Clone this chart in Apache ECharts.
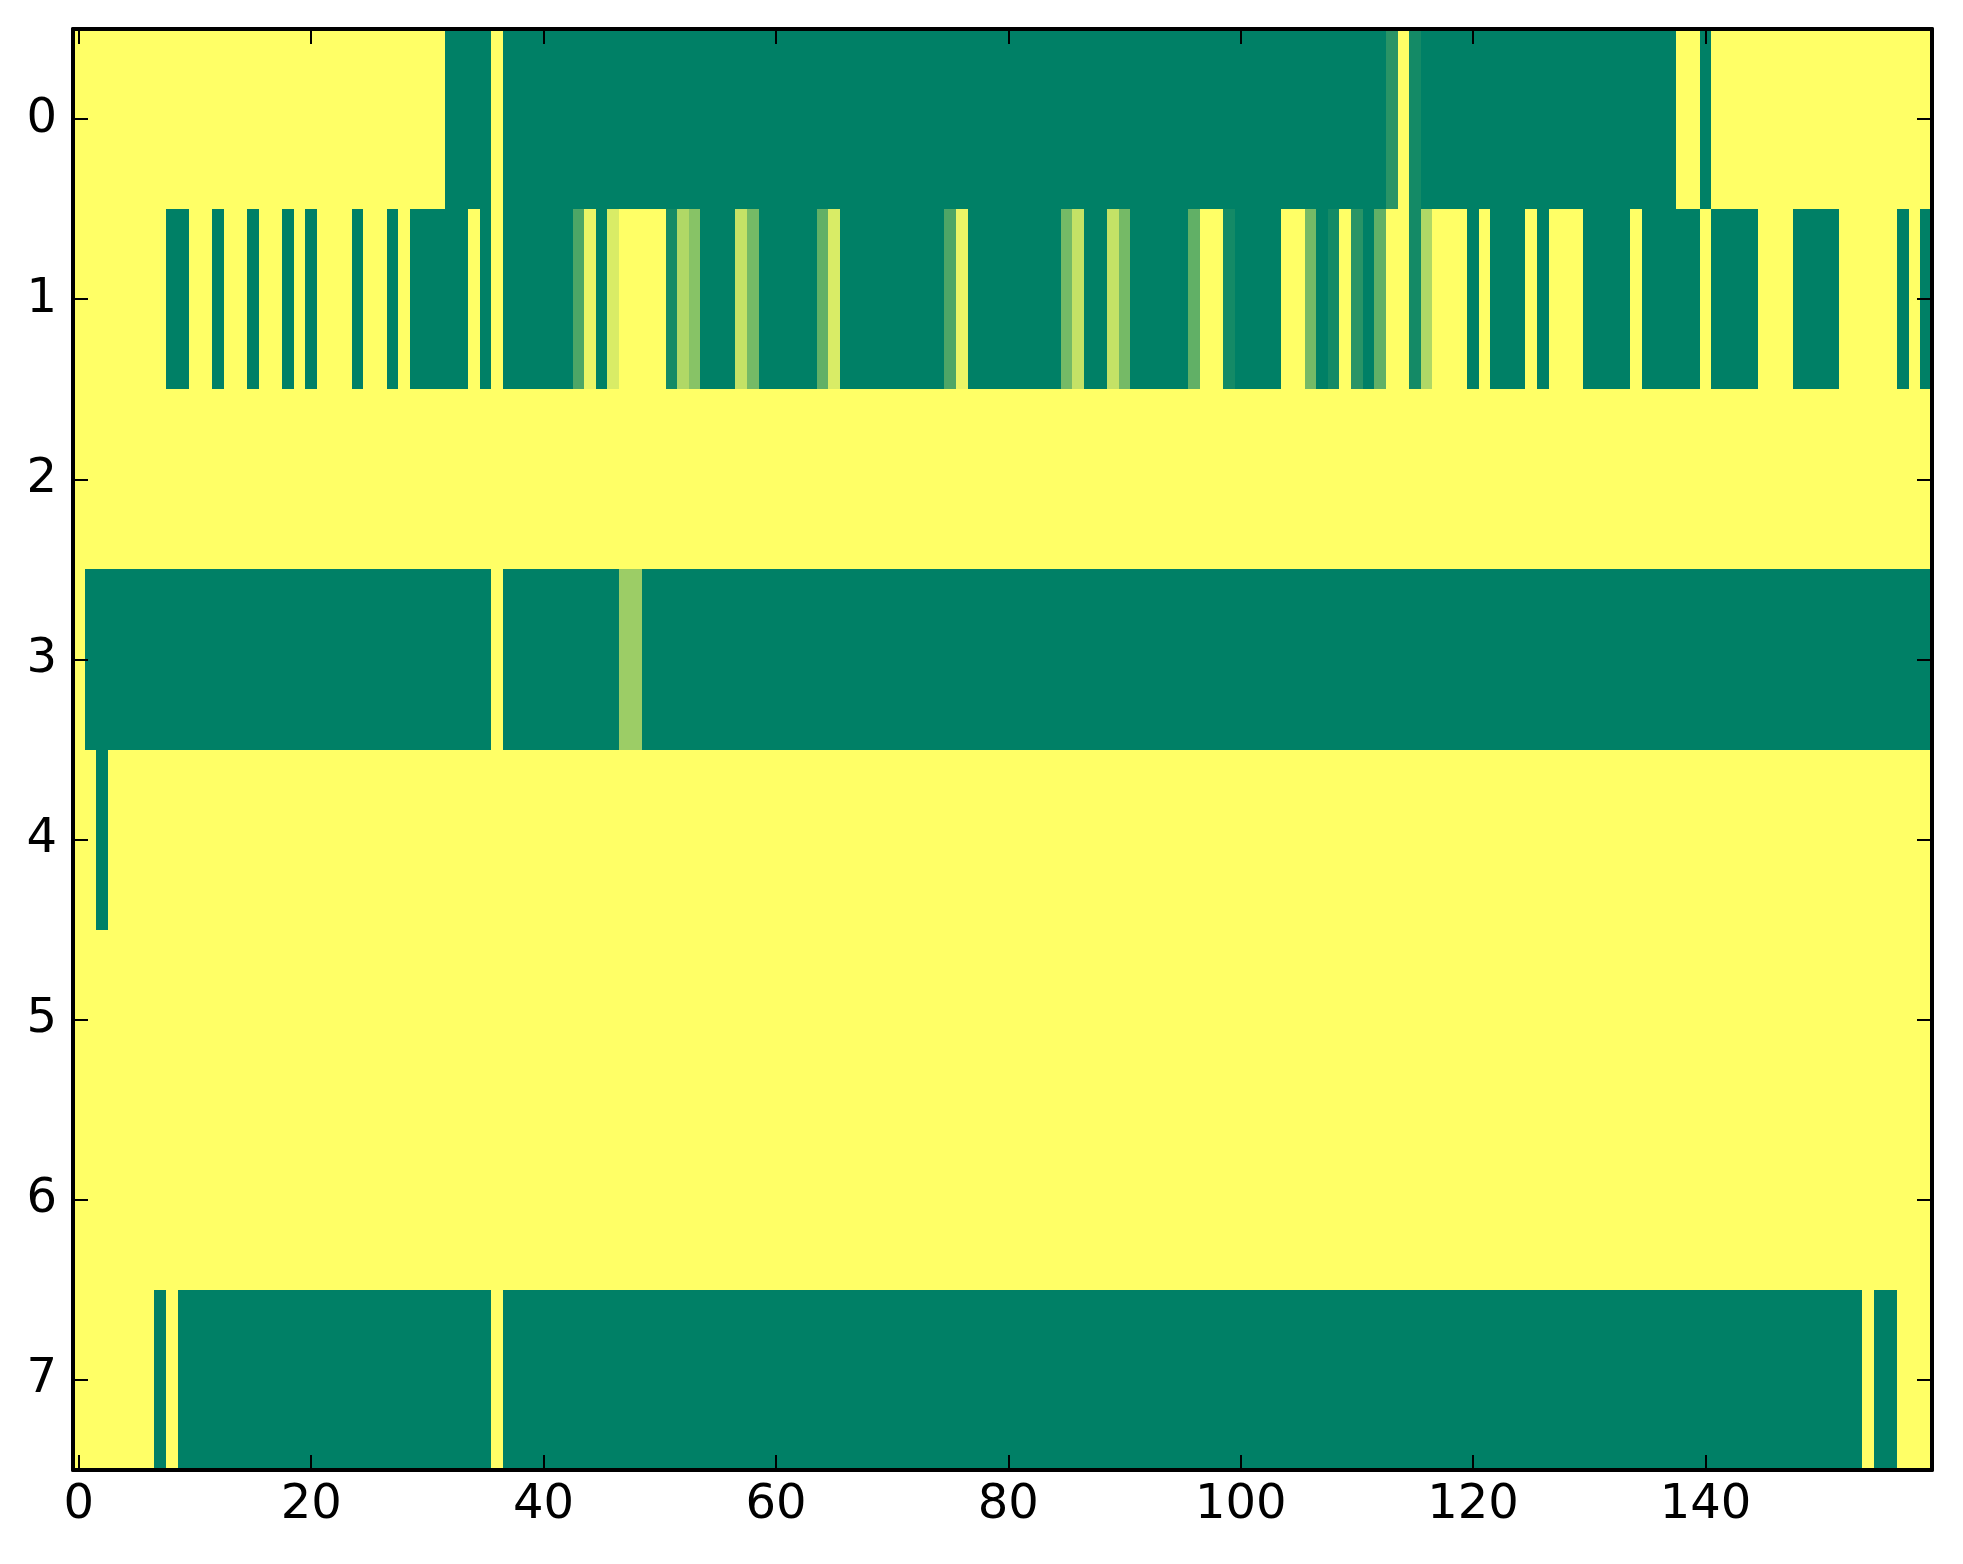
<!DOCTYPE html>
<html>
<head>
<meta charset="utf-8">
<script src="https://cdn.jsdelivr.net/npm/echarts@6/dist/echarts.min.js"></script>
<style>
  html, body { margin: 0; padding: 0; background: #fff; }
  #chart { width: 1963px; height: 1564px; }
</style>
</head>
<body>
<div id="chart"></div>
<script>
// values per row, 0 = green, 1 = yellow (summer colormap)
var row0 = [
  1,1,1,1,1,1,1,1,1,1,1,1,1,1,1,1,1,1,1,1,
  1,1,1,1,1,1,1,1,1,1,1,1,0,0,0,0,1,0,0,0,
  0,0,0,0,0,0,0,0,0,0,0,0,0,0,0,0,0,0,0,0,
  0,0,0,0,0,0,0,0,0,0,0,0,0,0,0,0,0,0,0,0,
  0,0,0,0,0,0,0,0,0,0,0,0,0,0,0,0,0,0,0,0,
  0,0,0,0,0,0,0,0,0,0,0,0,0,.16,1,.08,0,0,0,0,
  0,0,0,0,0,0,0,0,0,0,0,0,0,0,0,0,0,0,1,1,
  0,1,1,1,1,1,1,1,1,1,1,1,1,1,1,1,1,1,1,1
];
var row1 = [
  1,1,1,1,1,1,1,1,0,0,1,1,0,1,1,0,1,1,0,1,
  0,1,1,1,0,1,1,0,1,0,0,0,0,0,1,0,1,0,0,0,
  0,0,0,.3,.92,0,.85,1,1,1,1,.08,.69,.53,0,0,0,.77,.46,0,
  0,0,0,0,.38,.85,0,0,0,0,0,0,0,0,0,.3,.92,0,0,0,
  0,0,0,0,0,.46,.77,0,0,.77,.46,0,0,0,0,0,.38,1,1,.08,
  0,0,0,0,1,1,.46,0,.08,1,.16,0,.38,1,1,.08,.69,1,1,1,
  0,1,0,0,0,1,0,1,1,1,0,0,0,0,1,0,0,0,0,0,
  1,0,0,0,0,1,1,1,0,0,0,0,1,1,1,1,1,0,1,0
];
var row2 = [
  1,1,1,1,1,1,1,1,1,1,1,1,1,1,1,1,1,1,1,1,
  1,1,1,1,1,1,1,1,1,1,1,1,1,1,1,1,1,1,1,1,
  1,1,1,1,1,1,1,1,1,1,1,1,1,1,1,1,1,1,1,1,
  1,1,1,1,1,1,1,1,1,1,1,1,1,1,1,1,1,1,1,1,
  1,1,1,1,1,1,1,1,1,1,1,1,1,1,1,1,1,1,1,1,
  1,1,1,1,1,1,1,1,1,1,1,1,1,1,1,1,1,1,1,1,
  1,1,1,1,1,1,1,1,1,1,1,1,1,1,1,1,1,1,1,1,
  1,1,1,1,1,1,1,1,1,1,1,1,1,1,1,1,1,1,1,1
];
var row3 = [
  1,0,0,0,0,0,0,0,0,0,0,0,0,0,0,0,0,0,0,0,
  0,0,0,0,0,0,0,0,0,0,0,0,0,0,0,0,1,0,0,0,
  0,0,0,0,0,0,0,.61,.61,0,0,0,0,0,0,0,0,0,0,0,
  0,0,0,0,0,0,0,0,0,0,0,0,0,0,0,0,0,0,0,0,
  0,0,0,0,0,0,0,0,0,0,0,0,0,0,0,0,0,0,0,0,
  0,0,0,0,0,0,0,0,0,0,0,0,0,0,0,0,0,0,0,0,
  0,0,0,0,0,0,0,0,0,0,0,0,0,0,0,0,0,0,0,0,
  0,0,0,0,0,0,0,0,0,0,0,0,0,0,0,0,0,0,0,0
];
var row4 = [
  1,1,0,1,1,1,1,1,1,1,1,1,1,1,1,1,1,1,1,1,
  1,1,1,1,1,1,1,1,1,1,1,1,1,1,1,1,1,1,1,1,
  1,1,1,1,1,1,1,1,1,1,1,1,1,1,1,1,1,1,1,1,
  1,1,1,1,1,1,1,1,1,1,1,1,1,1,1,1,1,1,1,1,
  1,1,1,1,1,1,1,1,1,1,1,1,1,1,1,1,1,1,1,1,
  1,1,1,1,1,1,1,1,1,1,1,1,1,1,1,1,1,1,1,1,
  1,1,1,1,1,1,1,1,1,1,1,1,1,1,1,1,1,1,1,1,
  1,1,1,1,1,1,1,1,1,1,1,1,1,1,1,1,1,1,1,1
];
var row5 = [
  1,1,1,1,1,1,1,1,1,1,1,1,1,1,1,1,1,1,1,1,
  1,1,1,1,1,1,1,1,1,1,1,1,1,1,1,1,1,1,1,1,
  1,1,1,1,1,1,1,1,1,1,1,1,1,1,1,1,1,1,1,1,
  1,1,1,1,1,1,1,1,1,1,1,1,1,1,1,1,1,1,1,1,
  1,1,1,1,1,1,1,1,1,1,1,1,1,1,1,1,1,1,1,1,
  1,1,1,1,1,1,1,1,1,1,1,1,1,1,1,1,1,1,1,1,
  1,1,1,1,1,1,1,1,1,1,1,1,1,1,1,1,1,1,1,1,
  1,1,1,1,1,1,1,1,1,1,1,1,1,1,1,1,1,1,1,1
];
var row6 = [
  1,1,1,1,1,1,1,1,1,1,1,1,1,1,1,1,1,1,1,1,
  1,1,1,1,1,1,1,1,1,1,1,1,1,1,1,1,1,1,1,1,
  1,1,1,1,1,1,1,1,1,1,1,1,1,1,1,1,1,1,1,1,
  1,1,1,1,1,1,1,1,1,1,1,1,1,1,1,1,1,1,1,1,
  1,1,1,1,1,1,1,1,1,1,1,1,1,1,1,1,1,1,1,1,
  1,1,1,1,1,1,1,1,1,1,1,1,1,1,1,1,1,1,1,1,
  1,1,1,1,1,1,1,1,1,1,1,1,1,1,1,1,1,1,1,1,
  1,1,1,1,1,1,1,1,1,1,1,1,1,1,1,1,1,1,1,1
];
var row7 = [
  1,1,1,1,1,1,1,0,1,0,0,0,0,0,0,0,0,0,0,0,
  0,0,0,0,0,0,0,0,0,0,0,0,0,0,0,0,1,0,0,0,
  0,0,0,0,0,0,0,0,0,0,0,0,0,0,0,0,0,0,0,0,
  0,0,0,0,0,0,0,0,0,0,0,0,0,0,0,0,0,0,0,0,
  0,0,0,0,0,0,0,0,0,0,0,0,0,0,0,0,0,0,0,0,
  0,0,0,0,0,0,0,0,0,0,0,0,0,0,0,0,0,0,0,0,
  0,0,0,0,0,0,0,0,0,0,0,0,0,0,0,0,0,0,0,0,
  0,0,0,0,0,0,0,0,0,0,0,0,0,0,1,0,0,1,1,1
];
var rows = [row0, row1, row2, row3, row4, row5, row6, row7];

var yCategories = ['0', '1', '2', '3', '4', '5', '6', '7'];
var xTickLabels = ['0', '20', '40', '60', '80', '100', '120', '140'];
var xCategories = [];
for (var i = 0; i < row0.length; i++) xCategories.push(String(i));

// cells [col, row, value]
var cells = [];
rows.forEach(function (r, y) {
  r.forEach(function (v, x) { cells.push([x, y, v]); });
});

var font = 'DejaVu Sans';
function everyTwenty(idx, val) { return xTickLabels.indexOf(val) >= 0; }

function xAxisOpt(pos, showLabel) {
  return {
    type: 'category',
    data: xCategories,
    position: pos,
    z: 10,
    axisLine: { show: true, onZero: false, lineStyle: { color: '#000', width: 4 } },
    axisTick: { show: true, inside: true, alignWithLabel: true, interval: everyTwenty, length: 15, lineStyle: { color: '#000', width: 2 } },
    axisLabel: { show: showLabel, interval: everyTwenty, margin: 12, color: '#000', fontSize: 48, fontFamily: font },
    splitLine: { show: false },
    splitArea: { show: false }
  };
}
function yAxisOpt(pos, showLabel) {
  return {
    type: 'category',
    data: yCategories,
    inverse: true,
    position: pos,
    z: 10,
    axisLine: { show: true, onZero: false, lineStyle: { color: '#000', width: 4 } },
    axisTick: { show: true, inside: true, alignWithLabel: true, interval: 0, length: 15, lineStyle: { color: '#000', width: 2 } },
    axisLabel: { show: showLabel, interval: 0, margin: 16, color: '#000', fontSize: 48, fontFamily: font },
    splitLine: { show: false },
    splitArea: { show: false }
  };
}

// cell rect snapped to whole pixels so neighbouring cells leave no seams
function renderCell(params, api) {
  var c = api.coord([api.value(0), api.value(1)]);
  var s = api.size([1, 1]);
  var x0 = Math.round(c[0] - s[0] / 2), x1 = Math.round(c[0] + s[0] / 2);
  var y0 = Math.round(c[1] - s[1] / 2), y1 = Math.round(c[1] + s[1] / 2);
  return {
    type: 'rect',
    shape: { x: x0, y: y0, width: x1 - x0, height: y1 - y0 },
    style: { fill: api.visual('color') }
  };
}

var chart = echarts.init(document.getElementById('chart'));
var option = {
  backgroundColor: '#fff',
  animation: false,
  grid: { left: 73, right: 31, top: 29, bottom: 94 },
  xAxis: [xAxisOpt('bottom', true), xAxisOpt('top', false)],
  yAxis: [yAxisOpt('left', true), yAxisOpt('right', false)],
  visualMap: {
    show: false,
    type: 'continuous',
    min: 0,
    max: 1,
    dimension: 2,
    seriesIndex: 0,
    inRange: { color: ['#008066', '#ffff66'] }
  },
  series: [{
    type: 'custom',
    xAxisIndex: 0,
    yAxisIndex: 0,
    data: cells,
    renderItem: renderCell,
    encode: { x: 0, y: 1 },
    progressive: 0,
    silent: true
  }]
};
chart.setOption(option);
</script>
</body>
</html>
